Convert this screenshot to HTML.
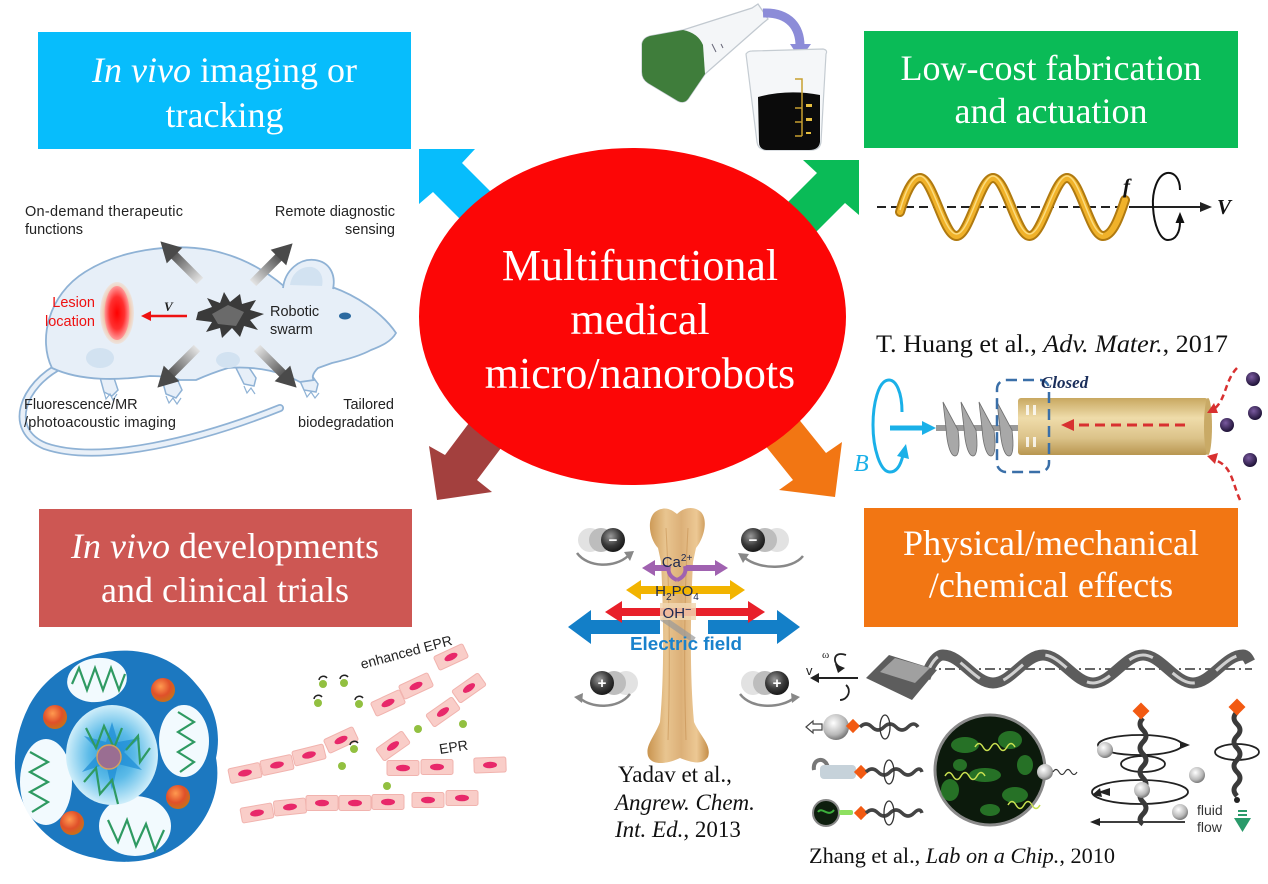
<!DOCTYPE html>
<html><head><meta charset="utf-8"><style>
html,body{margin:0;padding:0;background:#fff;}
svg{display:block;}
</style></head><body>
<svg width="1268" height="884" viewBox="0 0 1268 884" xmlns="http://www.w3.org/2000/svg" font-family="'Liberation Serif', serif">
<defs>
  <linearGradient id="garr" x1="0" y1="0" x2="1" y2="0">
    <stop offset="0" stop-color="#e4e4e4"/><stop offset="1" stop-color="#4a4a4a"/>
  </linearGradient>
  <g id="grayarrow">
    <rect x="0" y="-4.5" width="40" height="9" fill="url(#garr)"/>
    <polygon points="36,-11 56,0 36,11" fill="#4a4a4a"/>
  </g>
  <radialGradient id="halo" cx="0.5" cy="0.5" r="0.5">
    <stop offset="0.6" stop-color="#f3a070"/><stop offset="1" stop-color="#f6d3b8" stop-opacity="0.4"/>
  </radialGradient>
  <radialGradient id="lesion" cx="0.5" cy="0.5" r="0.5">
    <stop offset="0" stop-color="#ff0000"/><stop offset="0.6" stop-color="#ff3030"/><stop offset="1" stop-color="#ff9a9a"/>
  </radialGradient>
  <linearGradient id="gold" x1="0" y1="0" x2="0" y2="1">
    <stop offset="0" stop-color="#c8a860"/><stop offset="0.35" stop-color="#efdcaa"/><stop offset="0.7" stop-color="#dcc38a"/><stop offset="1" stop-color="#b89650"/>
  </linearGradient>
  <linearGradient id="bone" x1="0" y1="0" x2="1" y2="0">
    <stop offset="0" stop-color="#c9944f"/><stop offset="0.3" stop-color="#e9c590"/><stop offset="0.55" stop-color="#dcb078"/><stop offset="0.8" stop-color="#ecc894"/><stop offset="1" stop-color="#c48d48"/>
  </linearGradient>
  <radialGradient id="dsph" cx="0.4" cy="0.35" r="0.65">
    <stop offset="0" stop-color="#9a9a9a"/><stop offset="0.6" stop-color="#3a3a3a"/><stop offset="1" stop-color="#1a1a1a"/>
  </radialGradient>
  <radialGradient id="lsph" cx="0.4" cy="0.35" r="0.65">
    <stop offset="0" stop-color="#ffffff"/><stop offset="0.7" stop-color="#b8b8b8"/><stop offset="1" stop-color="#7a7a7a"/>
  </radialGradient>
  <radialGradient id="osph" cx="0.4" cy="0.35" r="0.65">
    <stop offset="0" stop-color="#ff9a50"/><stop offset="0.6" stop-color="#e0502a"/><stop offset="1" stop-color="#c8701a"/>
  </radialGradient>
  <radialGradient id="psph" cx="0.4" cy="0.35" r="0.65">
    <stop offset="0" stop-color="#7a5aa0"/><stop offset="1" stop-color="#1e1236"/>
  </radialGradient>
  <radialGradient id="mcenter" cx="0.5" cy="0.5" r="0.5">
    <stop offset="0" stop-color="#2a9ad8"/><stop offset="0.5" stop-color="#5cbbe8"/><stop offset="1" stop-color="#cfeefa"/>
  </radialGradient>
  <g id="cell">
    <rect x="-16" y="-7.5" width="32" height="15" rx="2" fill="#f9cdc8" stroke="#f1b3ae" stroke-width="1"/>
    <ellipse rx="7" ry="3.3" fill="#e8286a"/>
  </g>
</defs>

<!-- ===== Title boxes ===== -->
<rect x="38" y="32" width="373" height="117" fill="#07bdfc"/>
<text x="224.5" y="82" font-size="36" fill="#fff" text-anchor="middle"><tspan font-style="italic">In vivo</tspan> imaging or</text>
<text x="224.5" y="127" font-size="36" fill="#fff" text-anchor="middle">tracking</text>

<rect x="864" y="31" width="374" height="117" fill="#0abb57"/>
<text x="1051" y="80" font-size="36" fill="#fff" text-anchor="middle">Low-cost fabrication</text>
<text x="1051" y="123" font-size="36" fill="#fff" text-anchor="middle">and actuation</text>

<rect x="39" y="509" width="373" height="118" fill="#cd5753"/>
<text x="225" y="558" font-size="36" fill="#fff" text-anchor="middle"><tspan font-style="italic">In vivo</tspan> developments</text>
<text x="225" y="602" font-size="36" fill="#fff" text-anchor="middle">and clinical trials</text>

<rect x="864" y="508" width="374" height="119" fill="#f27613"/>
<text x="1051" y="555" font-size="36" fill="#fff" text-anchor="middle">Physical/mechanical</text>
<text x="1051" y="597" font-size="36" fill="#fff" text-anchor="middle">/chemical effects</text>

<!-- ===== Block arrows ===== -->
<polygon points="419,149 475,149 462,163 540,241 511,270 433,192 419,204" fill="#07bdfc"/>
<polygon points="859,160 803,160 817,173 737,253 765,283 845,203 859,215" fill="#0abb57"/>
<polygon points="437,500 429,446 445,455 493,391 525,416 477,480 492,492" fill="#a3403e"/>
<polygon points="835,497 842,442 826,453 776,391 743,418 793,480 779,490" fill="#f27613"/>

<!-- ===== Central ellipse ===== -->
<ellipse cx="632.5" cy="316.5" rx="213.5" ry="168.5" fill="#fc0606"/>
<text x="640" y="280" font-size="44" fill="#fff" text-anchor="middle">Multifunctional</text>
<text x="640" y="334" font-size="44" fill="#fff" text-anchor="middle">medical</text>
<text x="640" y="388" font-size="44" fill="#fff" text-anchor="middle">micro/nanorobots</text>

<!-- ===== Flask & beaker ===== -->
<path d="M650,36 L683,30 L752,8 L758,4 L768,19 L763,23 L705,74 L688,99 Q684,104 678,101 L648,83 Q642,79 642,72 L642,44 Q643,38 650,36 Z" fill="#f4f6f8" stroke="#c2c9d0" stroke-width="1.3"/>
<path d="M650,36 L683,30 Q698,33 703,45 L705,74 L688,99 Q684,104 678,101 L648,83 Q642,79 642,72 L642,44 Q643,38 650,36 Z" fill="#3f7d3b"/>
<path d="M712,44 L716,52 M721,44 L723,48" stroke="#667" stroke-width="1"/>
<path d="M763,13 C790,12 800,28 800,46" fill="none" stroke="#8c8cd8" stroke-width="9"/>
<polygon points="790,44 811,44 800,59" fill="#8c8cd8"/>
<path d="M746,54 Q748,51 752,51 L823,49 Q828,50 826,54 L821,142 Q820,150 811,150 L767,150 Q758,150 757,142 Z" fill="#f5f7f9" stroke="#c5ccd2" stroke-width="1.2"/>
<path d="M758,97 Q788,89 820,95 L820,142 Q819,150 809,150 L768,150 Q759,150 759,142 Z" fill="#0b0b0b"/>
<g stroke="#c8a030" stroke-width="1.5" fill="none">
  <path d="M795,79 L802,79 L802,136"/>
  <path d="M795,108 L802,108 M795,122 L802,122 M795,136 L802,136"/>
</g>
<rect x="806" y="104" width="6" height="3" fill="#e8c040"/>
<rect x="806" y="118" width="6" height="3" fill="#e8c040"/>
<rect x="806" y="132" width="5" height="2" fill="#e8c040"/>

<!-- ===== Mouse panel ===== -->
<path d="M62,365 C22,385 6,430 45,446 C100,465 200,440 280,408" fill="none" stroke="#8fb2d5" stroke-width="8" stroke-linecap="round"/>
<path d="M62,365 C22,385 6,430 45,446 C100,465 200,440 280,408" fill="none" stroke="#e9f0f8" stroke-width="4.5" stroke-linecap="round"/>
<g stroke="#8fb2d5" stroke-width="1.5" fill="#e7eff8">
  <path d="M98,370 L104,392 L112,396 L118,390 L112,372 Z"/>
  <path d="M160,372 L166,394 L176,398 L182,390 L174,372 Z"/>
  <path d="M236,368 L244,384 L254,386 L256,378 L248,366 Z"/>
  <path d="M296,372 L304,390 L316,392 L318,384 L308,370 Z"/>
</g>
<path d="M52,368 C38,340 48,295 85,272 C120,250 170,243 210,250 C240,256 265,270 285,287 C300,284 318,284 332,287 C355,295 382,312 396,333 C391,342 381,346 371,350 C360,356 345,360 332,363 L318,368 C312,374 312,378 314,380 L300,382 L292,378 C275,370 250,366 228,368 C215,372 205,376 196,380 L180,380 C172,378 166,376 150,376 C120,380 82,382 52,368 Z" fill="#e7eff8" stroke="#8fb2d5" stroke-width="1.8"/>
<path d="M283,288 C285,270 300,258 315,260 C330,262 336,275 333,289" fill="#e7eff8" stroke="#8fb2d5" stroke-width="1.8"/>
<path d="M290,285 C292,272 302,266 312,267 C320,269 324,277 322,286 Z" fill="#d2e2f1"/>
<ellipse cx="100" cy="358" rx="14" ry="10" fill="#d2e2f1"/>
<ellipse cx="228" cy="360" rx="12" ry="8" fill="#d2e2f1"/>
<g stroke="#8fb2d5" stroke-width="1.2" fill="none">
  <path d="M104,392 l2,7 l4,-5 l3,6 l4,-6 M166,396 l3,7 l4,-5 l4,6 l4,-6 M244,386 l3,7 l4,-5 l4,6 M304,390 l3,7 l4,-5 l4,6 l4,-5"/>
</g>
<ellipse cx="345" cy="316" rx="6" ry="3.5" fill="#2c6aa0"/>
<ellipse cx="117" cy="313" rx="17" ry="31" fill="url(#halo)"/>
<ellipse cx="117" cy="313" rx="12.5" ry="27" fill="url(#lesion)"/>
<line x1="187" y1="316" x2="149" y2="316" stroke="#ee1111" stroke-width="2.5"/>
<polygon points="141,316 151,311 151,321" fill="#ee1111"/>
<text x="164" y="311" font-size="13" font-style="italic" font-weight="bold" fill="#222">V</text>
<polygon points="198,312 212,307 207,298 220,303 224,292 230,302 240,294 242,304 256,300 250,310 264,314 250,320 258,330 244,326 240,337 232,328 222,338 220,328 206,332 212,322 196,320" fill="#3a3a3a"/>
<polygon points="212,314 228,305 244,312 236,326 218,324" fill="#6a6a6a"/>
<use href="#grayarrow" transform="translate(200,281) rotate(-135)"/>
<use href="#grayarrow" transform="translate(253,283) rotate(-45)"/>
<use href="#grayarrow" transform="translate(197,348) rotate(135)"/>
<use href="#grayarrow" transform="translate(257,348) rotate(45)"/>
<g font-family="'Liberation Sans', sans-serif" font-size="14.5" fill="#222">
  <text x="25" y="216" textLength="158" lengthAdjust="spacing">On-demand therapeutic</text>
  <text x="25" y="234">functions</text>
  <text x="395" y="216" text-anchor="end">Remote diagnostic</text>
  <text x="395" y="234" text-anchor="end">sensing</text>
  <text x="95" y="307" text-anchor="end" fill="#ee1111">Lesion</text>
  <text x="95" y="326" text-anchor="end" fill="#ee1111">location</text>
  <text x="270" y="316">Robotic</text>
  <text x="270" y="334">swarm</text>
  <text x="24" y="409">Fluorescence/MR</text>
  <text x="24" y="427" textLength="152" lengthAdjust="spacing">/photoacoustic imaging</text>
  <text x="394" y="409" text-anchor="end">Tailored</text>
  <text x="394" y="427" text-anchor="end">biodegradation</text>
</g>

<!-- ===== Helix (top right) ===== -->
<line x1="877" y1="207" x2="1133" y2="207" stroke="#222" stroke-width="2" stroke-dasharray="9,5"/>
<line x1="1133" y1="207" x2="1204" y2="207" stroke="#222" stroke-width="2"/>
<polygon points="1200,202 1212,207 1200,212" fill="#222"/>
<path d="M900,212 C905,195 912,178 920,178 C933,178 943.5,236 956.5,236 C969.5,236 980,178 993,178 C1006,178 1016.5,236 1029.5,236 C1042.5,236 1054,178 1067,178 C1080,178 1090,236 1103,236 C1113,236 1120,215 1125,200" fill="none" stroke="#b07a10" stroke-width="10" stroke-linecap="round"/>
<path d="M900,212 C905,195 912,178 920,178 C933,178 943.5,236 956.5,236 C969.5,236 980,178 993,178 C1006,178 1016.5,236 1029.5,236 C1042.5,236 1054,178 1067,178 C1080,178 1090,236 1103,236 C1113,236 1120,215 1125,200" fill="none" stroke="#f0b22a" stroke-width="6" stroke-linecap="round"/>
<path d="M900,210 C905,193 912,176 920,176 C933,176 943.5,234 956.5,234 C969.5,234 980,176 993,176 C1006,176 1016.5,234 1029.5,234 C1042.5,234 1054,176 1067,176 C1080,176 1090,234 1103,234" fill="none" stroke="#fbdc80" stroke-width="1.5"/>
<text x="1123" y="193" font-size="21" font-style="italic" font-weight="bold" fill="#111">f</text>
<path d="M1180,190 C1180,178 1174,172 1167,173 C1157,175 1152,192 1153,207 C1154,225 1160,240 1168,240 C1176,240 1180,232 1180,222" fill="none" stroke="#111" stroke-width="2"/>
<polygon points="1175.5,223 1180,212 1184.5,223" fill="#111"/>
<text x="1217" y="214" font-size="21" font-style="italic" font-weight="bold" fill="#111">V</text>

<text x="876" y="352" font-size="25" fill="#111" textLength="352" lengthAdjust="spacingAndGlyphs">T. Huang et al., <tspan font-style="italic">Adv. Mater.</tspan>, 2017</text>

<!-- Huang robot -->
<path d="M902,412 C902,392 896,380 889,380 C878,380 873,405 873,425 C873,448 880,472 890,472 C897,472 901,464 903,455" fill="none" stroke="#1ab0e8" stroke-width="3"/>
<polygon points="897,456 906,444 909,459" fill="#1ab0e8"/>
<text x="854" y="471" font-size="24" font-style="italic" fill="#1ab0e8">B</text>
<line x1="890" y1="428" x2="925" y2="428" stroke="#1ab0e8" stroke-width="5"/>
<polygon points="922,421 936,428 922,435" fill="#1ab0e8"/>
<line x1="936" y1="428" x2="1020" y2="428" stroke="#9a9a9a" stroke-width="6"/>
<g fill="#a8a8a8" stroke="#6e6e6e" stroke-width="0.8">
  <path d="M943,402 L946,428 C947,446 951,456 955,456 C959,456 960,446 958,430 Z"/>
  <path d="M961,402 L964,428 C965,446 969,456 973,456 C977,456 978,446 976,430 Z"/>
  <path d="M979,402 L982,428 C983,446 987,456 991,456 C995,456 996,446 994,430 Z"/>
  <path d="M997,402 L1000,428 C1001,446 1005,456 1009,456 C1013,456 1014,446 1012,430 Z"/>
</g>
<rect x="1018" y="398" width="190" height="57" rx="3" fill="url(#gold)"/>
<ellipse cx="1208" cy="426.5" rx="4" ry="28.5" fill="#c9aa66"/>
<g fill="#fff" opacity="0.8">
  <rect x="1026" y="405" width="3" height="10"/><rect x="1033" y="405" width="3" height="10"/>
  <rect x="1026" y="437" width="3" height="10"/><rect x="1033" y="437" width="3" height="10"/>
</g>
<line x1="1185" y1="425" x2="1070" y2="425" stroke="#d83030" stroke-width="3" stroke-dasharray="10,6"/>
<polygon points="1061,425 1074,419 1074,431" fill="#d83030"/>
<rect x="997" y="380" width="52" height="92" rx="9" fill="none" stroke="#3a6fa8" stroke-width="2.5" stroke-dasharray="11,6"/>
<text x="1041" y="388" font-size="17" font-style="italic" font-weight="bold" fill="#1a2e5a">Closed</text>
<path d="M1237,368 C1225,380 1226,400 1214,409" fill="none" stroke="#d83030" stroke-width="2.5" stroke-dasharray="6,4"/>
<polygon points="1207,413 1214,403 1218,413" fill="#d83030"/>
<path d="M1240,500 C1232,482 1232,466 1215,460" fill="none" stroke="#d83030" stroke-width="2.5" stroke-dasharray="6,4"/>
<polygon points="1207,456 1218,453 1215,464" fill="#d83030"/>
<circle cx="1253" cy="379" r="7" fill="url(#psph)"/>
<circle cx="1255" cy="413" r="7" fill="url(#psph)"/>
<circle cx="1227" cy="425" r="7" fill="url(#psph)"/>
<circle cx="1250" cy="460" r="7" fill="url(#psph)"/>

<!-- ===== Bone panel ===== -->
<path d="M655,512 C665,505 672,510 677,514 C683,508 693,505 701,512 C709,521 703,540 696,548 L693,562 C690,620 690,680 694,722 C700,736 712,745 708,757 C702,766 690,762 680,758 C670,763 652,767 648,756 C645,745 655,736 660,722 C664,680 664,620 661,562 L658,548 C650,540 646,520 655,512 Z" fill="url(#bone)"/>
<path d="M666,528 C670,600 670,680 668,740 M688,528 C684,600 684,680 686,740" fill="none" stroke="#c08848" stroke-width="1" opacity="0.5"/>

<!-- charge spheres -->
<g>
  <circle cx="590" cy="540" r="12" fill="#e2e2e2"/><circle cx="601" cy="540" r="12" fill="#bdbdbd"/><circle cx="613" cy="540" r="12" fill="url(#dsph)"/>
  <text x="613" y="545" font-family="'Liberation Sans', sans-serif" font-size="15" font-weight="bold" fill="#fff" text-anchor="middle">−</text>
  <path d="M577,553 C588,568 615,568 628,556" fill="none" stroke="#888" stroke-width="2.5"/>
  <polygon points="624,552 634,551 630,561" fill="#888"/>

  <circle cx="777" cy="540" r="12" fill="#e2e2e2"/><circle cx="765" cy="540" r="12" fill="#bdbdbd"/><circle cx="753" cy="540" r="12" fill="url(#dsph)"/>
  <text x="753" y="545" font-family="'Liberation Sans', sans-serif" font-size="15" font-weight="bold" fill="#fff" text-anchor="middle">−</text>
  <path d="M803,556 C792,570 760,570 745,558" fill="none" stroke="#888" stroke-width="2.5"/>
  <polygon points="749,554 738,553 743,563" fill="#888"/>

  <circle cx="626" cy="683" r="12" fill="#e2e2e2"/><circle cx="614" cy="683" r="12" fill="#bdbdbd"/><circle cx="602" cy="683" r="12" fill="url(#dsph)"/>
  <text x="602" y="688" font-family="'Liberation Sans', sans-serif" font-size="15" font-weight="bold" fill="#fff" text-anchor="middle">+</text>
  <path d="M630,694 C618,710 590,708 580,698" fill="none" stroke="#888" stroke-width="2.5"/>
  <polygon points="583,693 574,697 582,703" fill="#888"/>

  <circle cx="753" cy="683" r="12" fill="#e2e2e2"/><circle cx="765" cy="683" r="12" fill="#bdbdbd"/><circle cx="777" cy="683" r="12" fill="url(#dsph)"/>
  <text x="777" y="688" font-family="'Liberation Sans', sans-serif" font-size="15" font-weight="bold" fill="#fff" text-anchor="middle">+</text>
  <path d="M740,694 C752,710 782,708 794,698" fill="none" stroke="#888" stroke-width="2.5"/>
  <polygon points="791,693 800,697 792,703" fill="#888"/>
</g>

<!-- ion arrows -->
<polygon points="568,627 591,610 591,620 660,620 660,634 591,634 591,644" fill="#137fc8"/>
<polygon points="800,627 777,610 777,620 708,620 708,634 777,634 777,644" fill="#137fc8"/>
<path d="M662,618 L694,640" stroke="#9a9a9a" stroke-width="6" opacity="0.7"/>
<polygon points="605,612 622,601 622,608 748,608 748,601 765,612 748,623 748,616 622,616 622,623" fill="#e8202a"/>
<polygon points="626,590 641,580 641,586 730,586 730,580 745,590 730,600 730,594 641,594 641,600" fill="#f2b400"/>
<path d="M669,566 C667,574 672,578 677,580 M685,566 C687,574 682,578 677,580" stroke="#a062b0" stroke-width="4" fill="none"/>
<polygon points="642,568 655,560 655,565 668,565 668,571 655,571 655,576" fill="#a062b0"/>
<polygon points="728,568 715,560 715,565 686,565 686,571 715,571 715,576" fill="#a062b0"/>
<rect x="660" y="603" width="36" height="17" fill="#f1d6b0" opacity="0.85"/>
<g font-family="'Liberation Sans', sans-serif" fill="#1c2850" text-anchor="middle">
  <text x="677" y="567" font-size="15">Ca<tspan dy="-6" font-size="10">2+</tspan></text>
  <text x="677" y="596" font-size="15">H<tspan dy="4" font-size="10">2</tspan><tspan dy="-4">PO</tspan><tspan dy="4" font-size="10">4</tspan></text>
  <text x="677" y="618" font-size="15">OH<tspan dy="-5" font-size="11">−</tspan></text>
</g>
<text x="686" y="650" font-family="'Liberation Sans', sans-serif" font-size="18.5" font-weight="bold" fill="#1a82cc" text-anchor="middle" textLength="112" lengthAdjust="spacingAndGlyphs">Electric field</text>

<text x="618" y="782" font-size="23" fill="#111">Yadav et al.,</text>
<text x="615" y="810" font-size="23" font-style="italic" fill="#111">Angrew. Chem.</text>
<text x="615" y="837" font-size="23" fill="#111"><tspan font-style="italic">Int. Ed.</tspan>, 2013</text>

<!-- ===== Micelle ===== -->
<path d="M115,651 C150,648 178,662 196,684 C214,704 222,730 216,758 C222,790 208,822 184,842 C160,862 125,866 95,858 C62,852 34,830 22,800 C10,772 14,736 28,708 C44,676 78,654 115,651 Z" fill="#1c78c0"/>
<g fill="#f2fafe">
  <ellipse cx="97" cy="680" rx="30" ry="22" transform="rotate(-8 97 680)"/>
  <ellipse cx="184" cy="741" rx="25" ry="36"/>
  <ellipse cx="46" cy="782" rx="26" ry="43"/>
  <ellipse cx="135" cy="826" rx="36" ry="30"/>
</g>
<ellipse cx="112" cy="755" rx="46" ry="50" fill="url(#mcenter)"/>
<polygon points="112,722 118,742 140,738 124,752 142,770 118,764 112,790 106,764 82,772 100,752 84,736 106,742" fill="#1f8ed6" opacity="0.75"/>
<g fill="none" stroke="#2f9a62" stroke-width="2.2">
  <polyline points="72,684 79,668 87,690 95,668 103,690 111,668 119,690 125,674"/>
  <polyline points="178,712 194,722 178,732 194,742 178,752 194,762 180,772"/>
  <polyline points="30,752 48,762 30,772 48,782 30,792 48,802 32,812"/>
  <polyline points="108,820 118,842 127,820 136,846 146,824 155,850 164,830"/>
  <polyline points="86,728 96,748 104,726 114,748 122,728"/>
  <polyline points="84,782 96,768 100,794 112,780 118,804"/>
  <polyline points="126,750 138,736 140,762 150,748"/>
</g>
<circle cx="163" cy="690" r="12" fill="url(#osph)"/>
<circle cx="55" cy="717" r="12" fill="url(#osph)"/>
<circle cx="178" cy="797" r="12" fill="url(#osph)"/>
<circle cx="72" cy="823" r="12" fill="url(#osph)"/>
<circle cx="109" cy="757" r="12" fill="#9a6e92" stroke="#d2a060" stroke-width="1.5"/>

<!-- ===== EPR vessel ===== -->
<use href="#cell" transform="translate(257,813) rotate(-10)"/>
<use href="#cell" transform="translate(290,807) rotate(-6)"/>
<use href="#cell" transform="translate(322,803)"/>
<use href="#cell" transform="translate(355,803)"/>
<use href="#cell" transform="translate(388,802)"/>
<use href="#cell" transform="translate(428,800)"/>
<use href="#cell" transform="translate(462,798)"/>
<use href="#cell" transform="translate(245,773) rotate(-12)"/>
<use href="#cell" transform="translate(277,765) rotate(-12)"/>
<use href="#cell" transform="translate(309,755) rotate(-14)"/>
<use href="#cell" transform="translate(341,740) rotate(-25)"/>
<use href="#cell" transform="translate(403,768)"/>
<use href="#cell" transform="translate(437,767)"/>
<use href="#cell" transform="translate(490,765) rotate(-2)"/>
<use href="#cell" transform="translate(393,746) rotate(-35)"/>
<use href="#cell" transform="translate(443,712) rotate(-35)"/>
<use href="#cell" transform="translate(469,688) rotate(-35)"/>
<use href="#cell" transform="translate(388,703) rotate(-25)"/>
<use href="#cell" transform="translate(416,686) rotate(-25)"/>
<use href="#cell" transform="translate(451,657) rotate(-25)"/>
<g fill="#92c040">
  <circle cx="323" cy="684" r="4"/><circle cx="344" cy="683" r="4"/><circle cx="318" cy="703" r="4"/>
  <circle cx="359" cy="704" r="4"/><circle cx="354" cy="749" r="4"/><circle cx="342" cy="766" r="4"/>
  <circle cx="387" cy="786" r="4"/><circle cx="418" cy="729" r="4"/><circle cx="463" cy="724" r="4"/>
</g>
<g fill="none" stroke="#222" stroke-width="1.5">
  <path d="M319,680 A4.5,4.5 0 0 1 327,678"/><path d="M340,679 A4.5,4.5 0 0 1 348,677"/>
  <path d="M314,699 A4.5,4.5 0 0 1 322,697"/><path d="M355,700 A4.5,4.5 0 0 1 363,698"/>
  <path d="M350,745 A4.5,4.5 0 0 1 358,743"/>
</g>
<text x="362" y="669" font-family="'Liberation Sans', sans-serif" font-size="14" fill="#222" transform="rotate(-15 362 669)">enhanced EPR</text>
<text x="440" y="754" font-family="'Liberation Sans', sans-serif" font-size="14" fill="#222" transform="rotate(-9 440 754)">EPR</text>

<!-- ===== Zhang panel ===== -->
<line x1="925" y1="669" x2="1252" y2="669" stroke="#333" stroke-width="1.5" stroke-dasharray="10,4,2,4"/>
<path d="M925,678 C930,665 936,655 943,655 C961,655 975,683 993,683 C1011,683 1025,655 1043,655 C1061,655 1075,683 1093,683 C1111,683 1125,655 1143,655 C1161,655 1175,683 1193,683 C1211,683 1225,655 1243,655 C1247,655 1249,660 1250,662" fill="none" stroke="#5c5c5c" stroke-width="11"/>
<path d="M925,678 C930,665 936,655 943,655 C961,655 975,683 993,683 C1011,683 1025,655 1043,655 C1061,655 1075,683 1093,683 C1111,683 1125,655 1143,655 C1161,655 1175,683 1193,683 C1211,683 1225,655 1243,655" fill="none" stroke="#d0d0d0" stroke-width="3" stroke-dasharray="25,25"/>
<polygon points="866,678 889,655 937,670 912,700" fill="#5d5d5d"/>
<polygon points="880,672 895,658 930,668 915,683" fill="#a0a0a0"/>
<text x="806" y="675" font-family="'Liberation Sans', sans-serif" font-size="13" fill="#222">v</text>
<text x="822" y="658" font-family="'Liberation Serif', serif" font-size="11" fill="#222">ω</text>
<line x1="858" y1="678" x2="816" y2="678" stroke="#222" stroke-width="2"/>
<polygon points="810,678 819,673 819,683" fill="#222"/>
<path d="M846,655 C832,650 832,665 842,668 M846,685 C852,690 848,700 840,700" fill="none" stroke="#222" stroke-width="1.8"/>
<polygon points="835,664 845,668 838,673" fill="#222"/>

<!-- small robots -->
<g>
  <polygon points="806,727 813,721 813,724 822,724 822,730 813,730 813,733" fill="#fff" stroke="#444" stroke-width="1.2"/>
  <circle cx="836" cy="727" r="13" fill="url(#lsph)"/>
  <path d="M814,770 C812,758 826,756 828,768" fill="none" stroke="#777" stroke-width="4"/>
  <rect x="820" y="765" width="36" height="14" rx="4" fill="#c6d2da"/>
  <circle cx="826" cy="813" r="13" fill="#0e1e0e" stroke="#888" stroke-width="2"/>
  <path d="M818,812 C822,806 828,818 834,810" stroke="#3cae3c" stroke-width="2" fill="none"/>
  <rect x="839" y="810" width="14" height="5" rx="2" fill="#8ee060"/>
  <g fill="#f25a12">
    <rect x="848" y="721" width="10" height="10" transform="rotate(45 853 726)"/>
    <rect x="856" y="767" width="10" height="10" transform="rotate(45 861 772)"/>
    <rect x="856" y="808" width="10" height="10" transform="rotate(45 861 813)"/>
  </g>
  <g fill="none" stroke="#444" stroke-width="3.5">
    <path d="M860,727 q6,-6 12,0 t12,0 t12,0 t12,0 t10,0"/>
    <path d="M866,772 q6,-6 12,0 t12,0 t12,0 t12,0 t8,0"/>
    <path d="M866,813 q6,-6 12,0 t12,0 t12,0 t12,0 t8,0"/>
  </g>
  <g fill="none" stroke="#333" stroke-width="1.3">
    <ellipse cx="885" cy="727" rx="5" ry="12"/>
    <ellipse cx="889" cy="772" rx="5" ry="12"/>
    <ellipse cx="889" cy="813" rx="5" ry="12"/>
  </g>
</g>

<!-- big green circle -->
<circle cx="990" cy="770" r="55" fill="#0c1a0c" stroke="#8a8a8a" stroke-width="3"/>
<g fill="#2f8f2f" opacity="0.75">
  <ellipse cx="965" cy="745" rx="14" ry="8"/><ellipse cx="1010" cy="740" rx="12" ry="9"/>
  <ellipse cx="985" cy="775" rx="16" ry="7"/><ellipse cx="950" cy="790" rx="9" ry="11"/>
  <ellipse cx="1015" cy="795" rx="13" ry="8"/><ellipse cx="990" cy="810" rx="10" ry="6"/>
  <ellipse cx="1025" cy="765" rx="8" ry="10"/><ellipse cx="960" cy="765" rx="7" ry="6"/>
</g>
<g fill="none" stroke="#c8e050" stroke-width="1.5">
  <path d="M975,747 q4,-7 8,0 t8,0 t8,0 t8,0 t8,0"/>
  <path d="M945,776 q4,-7 8,0 t8,0 t8,0 t8,0 t8,0"/>
  <path d="M1008,805 q4,-7 8,0 t8,0 t8,0 t8,0"/>
</g>
<circle cx="1045" cy="772" r="8" fill="url(#lsph)"/>
<path d="M1053,772 q3,-5 6,0 t6,0 t6,0 t6,0" fill="none" stroke="#333" stroke-width="1.2"/>

<!-- right cluster -->
<g fill="none" stroke="#222" stroke-width="1.8">
  <ellipse cx="1140" cy="745" rx="42" ry="10"/>
  <ellipse cx="1143" cy="764" rx="22" ry="8"/>
  <ellipse cx="1140" cy="792" rx="48" ry="12"/>
  <path d="M1100,822 L1185,822"/>
  <ellipse cx="1237" cy="752" rx="22" ry="8"/>
</g>
<polygon points="1180,741 1190,745 1180,749" fill="#222"/>
<polygon points="1100,788 1092,795 1102,797" fill="#222"/>
<polygon points="1100,818 1090,822 1100,826" fill="#222"/>
<polygon points="1110,788 1098,792 1110,796" fill="#222"/>
<path d="M1143,718 q-6,6 0,12 t0,12 t0,12 t0,12 t0,12 t0,12 t0,12 t0,12 t0,10" fill="none" stroke="#3a3a3a" stroke-width="5"/>
<path d="M1237,712 q-6,6 0,12 t0,12 t0,12 t0,12 t0,12 t0,12 t0,12" fill="none" stroke="#3a3a3a" stroke-width="5"/>
<rect x="1135" y="705" width="12" height="12" fill="#f25a12" transform="rotate(45 1141 711)"/>
<rect x="1231" y="701" width="12" height="12" fill="#f25a12" transform="rotate(45 1237 707)"/>
<circle cx="1105" cy="750" r="8" fill="url(#lsph)"/>
<circle cx="1197" cy="775" r="8" fill="url(#lsph)"/>
<circle cx="1142" cy="790" r="8" fill="url(#lsph)"/>
<circle cx="1180" cy="812" r="8" fill="url(#lsph)"/>
<circle cx="1237" cy="800" r="3" fill="#222"/>
<text x="1197" y="815" font-family="'Liberation Sans', sans-serif" font-size="14" fill="#333">fluid</text>
<text x="1197" y="832" font-family="'Liberation Sans', sans-serif" font-size="14" fill="#333">flow</text>
<rect x="1238" y="810" width="9" height="2" fill="#2a9a6a"/>
<rect x="1238" y="814" width="9" height="2" fill="#2a9a6a"/>
<polygon points="1234,818 1251,818 1242.5,832" fill="#2a9a6a"/>

<text x="809" y="863" font-size="22" fill="#111" textLength="306" lengthAdjust="spacingAndGlyphs">Zhang et al., <tspan font-style="italic">Lab on a Chip.</tspan>, 2010</text>
</svg>
</body></html>
